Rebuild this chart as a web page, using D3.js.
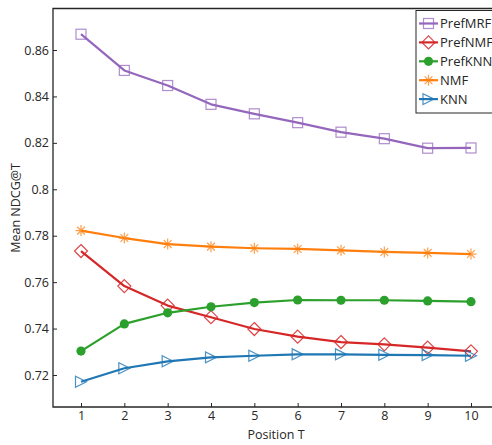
<!DOCTYPE html>
<html>
<head>
<meta charset="utf-8">
<script src="https://cdn.jsdelivr.net/npm/d3@7"></script>
<style>
  html, body { margin: 0; padding: 0; background: #fff; }
  svg { display: block; font-family: "Open Sans", "Noto Sans", sans-serif; }
</style>
</head>
<body>
<svg id="chart" width="492" height="445"></svg>
<script>
// Positions T = 1..10
const positions = [1, 2, 3, 4, 5, 6, 7, 8, 9, 10];

// Mean NDCG@T for each method
const prefMRF = [0.8668, 0.8512, 0.8447, 0.8366, 0.8325, 0.8287, 0.8246, 0.8218, 0.8177, 0.8178];
const prefNMF = [0.7734, 0.7583, 0.7499, 0.7449, 0.7398, 0.7365, 0.7342, 0.7332, 0.7318, 0.7302];
const prefKNN = [0.7303, 0.7420, 0.7468, 0.7494, 0.7512, 0.7523, 0.7522, 0.7522, 0.7519, 0.7516];
const nmf     = [0.7822, 0.7790, 0.7764, 0.7753, 0.7746, 0.7743, 0.7737, 0.7730, 0.7726, 0.7721];
const knn     = [0.7171, 0.7229, 0.7259, 0.7276, 0.7283, 0.7289, 0.7289, 0.7287, 0.7286, 0.7283];

const seriesNames = ["PrefMRF", "PrefNMF", "PrefKNN", "NMF", "KNN"];
const xTicks = [1, 2, 3, 4, 5, 6, 7, 8, 9, 10];
const yTicks = [0.72, 0.74, 0.76, 0.78, 0.80, 0.82, 0.84, 0.86];
const yTickLabels = ["0.72", "0.74", "0.76", "0.78", "0.8", "0.82", "0.84", "0.86"];

const series = [
  { name: seriesNames[0], values: prefMRF, color: "#9467bd", marker: "square" },
  { name: seriesNames[1], values: prefNMF, color: "#d62728", marker: "diamond" },
  { name: seriesNames[2], values: prefKNN, color: "#2ca02c", marker: "circle" },
  { name: seriesNames[3], values: nmf,     color: "#ff7f0e", marker: "star" },
  { name: seriesNames[4], values: knn,     color: "#1f77b4", marker: "triangle" }
];

const svg = d3.select("#chart");
const axisColor = "#262626";

// Plot box
const box = { left: 53, right: 494, top: 8.5, bottom: 407 };

const x = d3.scaleLinear().domain([1, 10]).range([81, 471]);
const y = d3.scaleLinear().domain([0.72, 0.86]).range([375, 50]);

// Frame (left, top, bottom edges)
svg.append("path")
  .attr("d", `M${box.right},${box.top}H${box.left}V${box.bottom}H${box.right}`)
  .attr("fill", "none")
  .attr("stroke", axisColor)
  .attr("stroke-width", 1.3);

// Y axis with inward ticks
const yAxis = d3.axisRight(y)
  .tickValues(yTicks)
  .tickSize(4)
  .tickFormat((d, i) => yTickLabels[i]);
const gy = svg.append("g").attr("transform", `translate(${box.left},0)`).call(yAxis);
gy.select(".domain").remove();
gy.selectAll(".tick line").attr("stroke", axisColor).attr("stroke-width", 1);
gy.selectAll(".tick text")
  .attr("x", -4)
  .attr("text-anchor", "end")
  .attr("fill", axisColor)
  .style("font-size", "12.5px")
  .style("font-family", "'Open Sans', sans-serif");

// X axis with inward ticks
const xAxis = d3.axisTop(x).tickValues(xTicks).tickSize(4).tickFormat(d3.format("d"));
const gx = svg.append("g").attr("transform", `translate(0,${box.bottom})`).call(xAxis);
gx.select(".domain").remove();
gx.selectAll(".tick line").attr("stroke", axisColor).attr("stroke-width", 1);
gx.selectAll(".tick text")
  .attr("y", 4)
  .attr("dy", "0.71em")
  .attr("fill", axisColor)
  .style("font-size", "12.5px")
  .style("font-family", "'Open Sans', sans-serif");

// Axis titles
svg.append("text")
  .attr("x", 276).attr("y", 439)
  .attr("text-anchor", "middle")
  .attr("fill", axisColor)
  .style("font-size", "12.5px")
  .text("Position T");

svg.append("text")
  .attr("transform", `translate(20,208) rotate(-90)`)
  .attr("text-anchor", "middle")
  .attr("fill", axisColor)
  .style("font-size", "12.5px")
  .text("Mean NDCG@T");

// Marker drawing
function drawMarker(g, type, color, cx, cy) {
  const s = 5;
  if (type === "square") {
    g.append("rect").attr("x", cx - s).attr("y", cy - s).attr("width", 2 * s).attr("height", 2 * s)
      .attr("fill", "none").attr("stroke", color).attr("stroke-opacity", 0.75).attr("stroke-width", 1.2);
  } else if (type === "diamond") {
    const d = 6.5;
    g.append("path").attr("d", `M${cx},${cy - d}L${cx + d},${cy}L${cx},${cy + d}L${cx - d},${cy}Z`)
      .attr("fill", "none").attr("stroke", color).attr("stroke-opacity", 0.85).attr("stroke-width", 1.2);
  } else if (type === "circle") {
    g.append("circle").attr("cx", cx).attr("cy", cy).attr("r", 4.6).attr("fill", color);
  } else if (type === "star") {
    const r = 5.5, q = r * 0.7071;
    g.append("path")
      .attr("d", `M${cx - r},${cy}H${cx + r}M${cx},${cy - r}V${cy + r}M${cx - q},${cy - q}L${cx + q},${cy + q}M${cx - q},${cy + q}L${cx + q},${cy - q}`)
      .attr("stroke", color).attr("stroke-opacity", 0.75).attr("stroke-width", 1.2).attr("fill", "none");
  } else if (type === "triangle") {
    const t = 5.5;
    g.append("path").attr("d", `M${cx + t},${cy}L${cx - t},${cy - t}L${cx - t},${cy + t}Z`)
      .attr("fill", "none").attr("stroke", color).attr("stroke-opacity", 0.8).attr("stroke-width", 1.2);
  }
}

const line = d3.line().x((d, i) => x(positions[i])).y(d => y(d));

series.forEach(s => {
  const g = svg.append("g");
  g.append("path")
    .datum(s.values)
    .attr("d", line)
    .attr("fill", "none")
    .attr("stroke", s.color)
    .attr("stroke-width", 2.2)
    .attr("stroke-linejoin", "round");
  s.values.forEach((v, i) => drawMarker(g, s.marker, s.color, x(positions[i]), y(v)));
});

// Legend
const legend = svg.append("g");
legend.append("rect")
  .attr("x", 416).attr("y", 10.5).attr("width", 90).attr("height", 102.5)
  .attr("fill", "#fff").attr("stroke", axisColor).attr("stroke-width", 1);

series.forEach((s, i) => {
  const cy = 23.5 + i * 18.9;
  legend.append("line")
    .attr("x1", 419).attr("x2", 438).attr("y1", cy).attr("y2", cy)
    .attr("stroke", s.color).attr("stroke-width", 2.2);
  drawMarker(legend, s.marker, s.color, 428.5, cy);
  legend.append("text")
    .attr("x", 440).attr("y", cy).attr("dy", "0.35em")
    .attr("fill", axisColor)
    .style("font-size", "13px")
    .text(s.name);
});
</script>
</body>
</html>
